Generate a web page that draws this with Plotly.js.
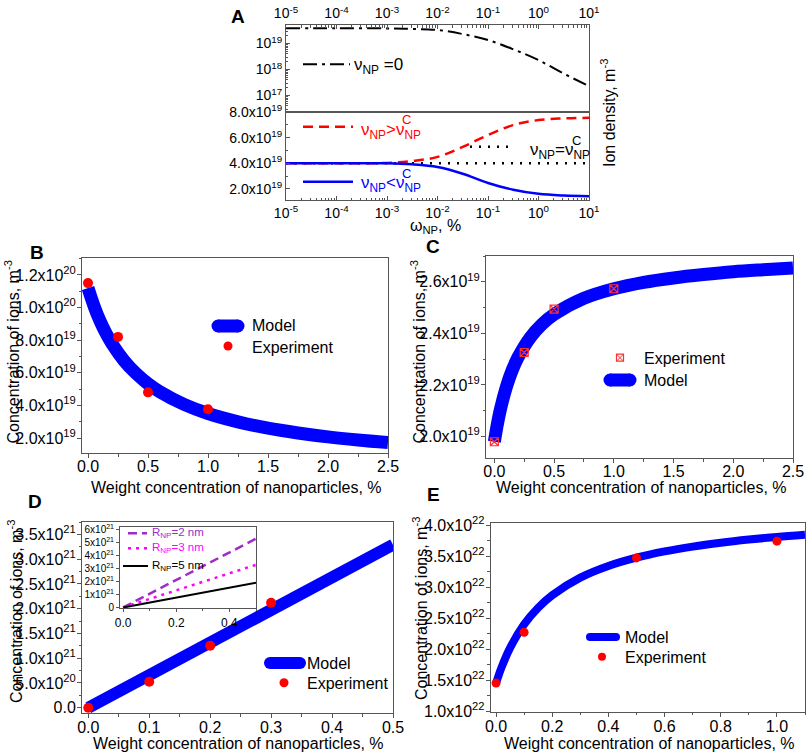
<!DOCTYPE html>
<html><head><meta charset="utf-8">
<script src="https://cdn.plot.ly/plotly-3.0.1.min.js"></script>
<style>html,body{margin:0;padding:0;background:#fff}#chart{width:809px;height:754px}</style>
</head><body><div id="chart"></div>
<script>
// ---------- Panel A data ----------
const aX = [1e-5, 1e-4, 1e-3, 3.16e-3, 1e-2, 3.16e-2, 1e-1, 3.16e-1, 1, 3.16, 10];
const aNuZero = [3.85e19, 3.85e19, 3.8e19, 3.6e19, 3.3e19, 2.3e19, 1.36e19, 6.0e18, 2.3e18, 7.0e17, 2.3e17];
const aNuGreater = [4.0e19, 4.0e19, 4.03e19, 4.18e19, 4.5e19, 5.28e19, 6.2e19, 6.98e19, 7.37e19, 7.5e19, 7.55e19];
const aNuLess = [4.0e19, 4.0e19, 4.0e19, 3.92e19, 3.71e19, 3.19e19, 2.47e19, 1.94e19, 1.62e19, 1.49e19, 1.44e19];
const aEqualX = [1e-5, 10];
const aNuEqual = [4.0e19, 4.0e19];
const aXTicks = [1e-5, 1e-4, 1e-3, 1e-2, 1e-1, 1, 10];
const aXTickText = ['10<sup>-5</sup>','10<sup>-4</sup>','10<sup>-3</sup>','10<sup>-2</sup>','10<sup>-1</sup>','10<sup>0</sup>','10<sup>1</sup>'];
const aTopYTicks = [1e17, 1e18, 1e19];
const aTopYText = ['10<sup>17</sup>','10<sup>18</sup>','10<sup>19</sup>'];
const aBotYTicks = [2e19, 4e19, 6e19, 8e19];
const aBotYText = ['2.0x10<sup>19</sup>','4.0x10<sup>19</sup>','6.0x10<sup>19</sup>','8.0x10<sup>19</sup>'];

// ---------- Panel B data ----------
const bModelX = [0,0.05,0.1,0.15,0.2,0.3,0.4,0.5,0.6,0.8,1.0,1.25,1.5,1.75,2.0,2.25,2.5];
const bModelY = [11.2e19,10.1e19,9.18e19,8.42e19,7.78e19,6.75e19,5.96e19,5.33e19,4.83e19,4.06e19,3.50e19,2.99e19,2.60e19,2.31e19,2.07e19,1.88e19,1.72e19];
const bExpX = [0, 0.25, 0.5, 1.0];
const bExpY = [11.5e19, 8.2e19, 4.8e19, 3.76e19];
const bYTicks = [2e19, 4e19, 6e19, 8e19, 10e19, 12e19];
const bYText = ['2.0x10<sup>19</sup>','4.0x10<sup>19</sup>','6.0x10<sup>19</sup>','8.0x10<sup>19</sup>','1.0x10<sup>20</sup>','1.2x10<sup>20</sup>'];

// ---------- Panel C data ----------
const cModelX = [0,0.02,0.05,0.1,0.15,0.2,0.3,0.4,0.5,0.75,1.0,1.25,1.5,1.75,2.0,2.25,2.5];
const cModelY = [1.98e19,2.035e19,2.104e19,2.192e19,2.258e19,2.309e19,2.384e19,2.436e19,2.474e19,2.536e19,2.573e19,2.598e19,2.615e19,2.628e19,2.639e19,2.647e19,2.654e19];
const cExpX = [0, 0.25, 0.5, 1.0];
const cExpY = [1.98e19, 2.326e19, 2.494e19, 2.573e19];
const cYTicks = [2.0e19, 2.2e19, 2.4e19, 2.6e19];
const cYText = ['2.0x10<sup>19</sup>','2.2x10<sup>19</sup>','2.4x10<sup>19</sup>','2.6x10<sup>19</sup>'];

// ---------- Panel D data ----------
const dModelX = [0, 0.5];
const dModelY = [0, 3.29e21];
const dExpX = [0, 0.1, 0.2, 0.3];
const dExpY = [0, 5.25e20, 1.253e21, 2.12e21];
const dYTicks = [0, 5e20, 1e21, 1.5e21, 2e21, 2.5e21, 3e21, 3.5e21];
const dYText = ['0.0','5.0x10<sup>20</sup>','1.0x10<sup>21</sup>','1.5x10<sup>21</sup>','2.0x10<sup>21</sup>','2.5x10<sup>21</sup>','3.0x10<sup>21</sup>','3.5x10<sup>21</sup>'];
// inset
const insX = [0, 0.25, 0.5];
const insR2 = [0, 2.66e21, 5.32e21];
const insR3 = [0, 1.65e21, 3.3e21];
const insR5 = [0, 0.95e21, 1.91e21];
const insYTicks = [0, 1e21, 2e21, 3e21, 4e21, 5e21, 6e21];
const insYText = ['0','1x10<sup>21</sup>','2x10<sup>21</sup>','3x10<sup>21</sup>','4x10<sup>21</sup>','5x10<sup>21</sup>','6x10<sup>21</sup>'];

// ---------- Panel E data ----------
const eModelX = [0,0.02,0.05,0.1,0.15,0.2,0.3,0.4,0.5,0.6,0.7,0.8,0.9,1.0,1.1];
const eModelY = [1.45e22,1.709e22,2.02e22,2.399e22,2.668e22,2.87e22,3.153e22,3.341e22,3.475e22,3.576e22,3.654e22,3.716e22,3.767e22,3.81e22,3.846e22];
const eExpX = [0, 0.1, 0.5, 1.0];
const eExpY = [1.452e22, 2.271e22, 3.472e22, 3.742e22];
const eYTicks = [1.0e22,1.5e22,2.0e22,2.5e22,3.0e22,3.5e22,4.0e22];
const eYText = ['1.0x10<sup>22</sup>','1.5x10<sup>22</sup>','2.0x10<sup>22</sup>','2.5x10<sup>22</sup>','3.0x10<sup>22</sup>','3.5x10<sup>22</sup>','4.0x10<sup>22</sup>'];

// ---------- helpers ----------
const W = 809, H = 754;
const PX = p => p / W;
const PY = p => 1 - p / H;
const F = 'Liberation Sans, Arial, sans-serif';
const BLUE = '#0000ff', RED = '#ff0000', PURPLE = '#a02cc8', MAG = '#ff00ff';
const AX = '#555';

function logMinor(d0, d1) {
  const v = [];
  for (let d = d0; d < d1; d++) for (let k = 2; k <= 9; k++) v.push(k * Math.pow(10, d));
  return v;
}

const base = {showgrid:false, zeroline:false, showline:true, mirror:true, linecolor:AX, linewidth:1,
  ticks:'outside', ticklen:4, tickcolor:AX, tickwidth:1, tickfont:{family:F, size:16, color:'#000'}};
function ax(extra) { return Object.assign({}, base, extra); }

const traces = [
  // Panel A top
  {x:aX, y:aNuZero, xaxis:'x', yaxis:'y', mode:'lines', line:{color:'#000', width:2, dash:'14px,5px,3px,5px', shape:'spline'}},
  // Panel A bottom
  {x:aEqualX, y:aNuEqual, xaxis:'x2', yaxis:'y2', mode:'lines', line:{color:'#000', width:2.5, dash:'2px,7px'}},
  {x:aX, y:aNuGreater, xaxis:'x2', yaxis:'y2', mode:'lines', line:{color:RED, width:2.5, dash:'10px,6px', shape:'spline'}},
  {x:aX, y:aNuLess, xaxis:'x2', yaxis:'y2', mode:'lines', line:{color:BLUE, width:2.5, shape:'spline'}},
  // Panel B
  {x:bModelX, y:bModelY, xaxis:'x3', yaxis:'y3', mode:'lines', line:{color:BLUE, width:13, shape:'spline'}},
  {x:bExpX, y:bExpY, xaxis:'x3', yaxis:'y3', mode:'markers', marker:{color:RED, size:10}},
  // Panel C
  {x:cModelX, y:cModelY, xaxis:'x4', yaxis:'y4', mode:'lines', line:{color:BLUE, width:13, shape:'spline'}},
  {x:cExpX, y:cExpY, xaxis:'x4', yaxis:'y4', mode:'markers', marker:{color:'#ff3030', size:8, symbol:'square-x-open', line:{width:1.2}}},
  // Panel D
  {x:dModelX, y:dModelY, xaxis:'x5', yaxis:'y5', mode:'lines', line:{color:BLUE, width:12}},
  {x:dExpX, y:dExpY, xaxis:'x5', yaxis:'y5', mode:'markers', marker:{color:RED, size:10}},
  // inset
  {x:insX, y:insR2, xaxis:'x6', yaxis:'y6', mode:'lines', line:{color:PURPLE, width:2.5, dash:'9px,5px'}},
  {x:insX, y:insR3, xaxis:'x6', yaxis:'y6', mode:'lines', line:{color:MAG, width:2.5, dash:'3px,5px'}},
  {x:insX, y:insR5, xaxis:'x6', yaxis:'y6', mode:'lines', line:{color:'#000', width:2}},
  // Panel E
  {x:eModelX, y:eModelY, xaxis:'x7', yaxis:'y7', mode:'lines', line:{color:BLUE, width:8, shape:'spline'}},
  {x:eExpX, y:eExpY, xaxis:'x7', yaxis:'y7', mode:'markers', marker:{color:RED, size:9}},
];
traces.forEach(t => { t.showlegend = false; t.hoverinfo = 'skip'; });

const aFont = {family:F, size:14, color:'#000'};
const layout = {
  width:W, height:H, margin:{l:0, r:0, t:0, b:0}, paper_bgcolor:'#fff', plot_bgcolor:'rgba(0,0,0,0)',
  showlegend:false,
  // A top
  xaxis: ax({type:'log', domain:[PX(286), PX(589)], anchor:'y', side:'top', range:[-5, 1],
    tickmode:'array', tickvals:aXTicks, ticktext:aXTickText, ticks:'inside', ticklen:4, tickfont:aFont,
    minor:{tickmode:'array', tickvals:logMinor(-5, 1), ticks:'inside', ticklen:2.5, tickcolor:AX}}),
  yaxis: ax({type:'log', domain:[PY(112), PY(25)], anchor:'x', range:[16.37, 19.71],
    tickmode:'array', tickvals:aTopYTicks, ticktext:aTopYText, ticks:'inside', ticklen:4, tickfont:aFont,
    minor:{tickmode:'array', tickvals:logMinor(16, 20), ticks:'inside', ticklen:2, tickcolor:AX}}),
  // A bottom
  xaxis2: ax({type:'log', domain:[PX(286), PX(589)], anchor:'y2', range:[-5, 1],
    tickmode:'array', tickvals:aXTicks, ticktext:aXTickText, ticks:'inside', ticklen:4, tickfont:aFont,
    minor:{tickmode:'array', tickvals:logMinor(-5, 1), ticks:'inside', ticklen:2.5, tickcolor:AX}}),
  yaxis2: ax({domain:[PY(200), PY(112)], anchor:'x2', range:[1.14e19, 8.0005e19],
    tickmode:'array', tickvals:aBotYTicks, ticktext:aBotYText, ticks:'inside', ticklen:4, tickfont:aFont,
    minor:{dtick:1e19, ticks:'inside', ticklen:2, tickcolor:AX}}),
  // B
  xaxis3: ax({domain:[PX(82), PX(388)], anchor:'y3', range:[-0.05, 2.5], dtick:0.5, tick0:0, tickformat:'.1f',
    ticklabelstandoff:-5, minor:{dtick:0.25, ticklen:2.5, tickcolor:AX}}),
  yaxis3: ax({domain:[PY(453), PY(258)], anchor:'x3', range:[1.08e19, 1.304e20], ticklabelstandoff:-2,
    tickmode:'array', tickvals:bYTicks, ticktext:bYText, minor:{dtick:1e19, ticklen:2.5, tickcolor:AX}}),
  // C
  xaxis4: ax({domain:[PX(486), PX(793)], anchor:'y4', range:[-0.07, 2.5], dtick:0.5, tick0:0, tickformat:'.1f',
    ticklabelstandoff:-5, minor:{dtick:0.25, ticklen:2.5, tickcolor:AX}}),
  yaxis4: ax({domain:[PY(458), PY(256)], anchor:'x4', range:[1.917e19, 2.70e19], ticklabelstandoff:-2,
    tickmode:'array', tickvals:cYTicks, ticktext:cYText, minor:{dtick:1e18, ticklen:2.5, tickcolor:AX}}),
  // D
  xaxis5: ax({domain:[PX(82), PX(393)], anchor:'y5', range:[-0.0103, 0.5], dtick:0.1, tick0:0, tickformat:'.1f',
    ticklabelstandoff:-4, minor:{dtick:0.05, ticklen:2.5, tickcolor:AX}}),
  yaxis5: ax({domain:[PY(713), PY(522)], anchor:'x5', range:[-1.07e20, 3.75e21], ticklabelstandoff:-2,
    tickmode:'array', tickvals:dYTicks, ticktext:dYText, minor:{dtick:2.5e20, ticklen:2.5, tickcolor:AX}}),
  // inset
  xaxis6: ax({domain:[PX(120), PX(256)], anchor:'y6', range:[-0.012, 0.5], dtick:0.2, tick0:0, tickformat:'.1f',
    ticklen:3, tickfont:{family:F, size:12, color:'#000'}, minor:{dtick:0.1, ticklen:2, tickcolor:AX}}),
  yaxis6: ax({domain:[PY(608.3), PY(526.7)], anchor:'x6', range:[-0.07e21, 6.25e21],
    tickmode:'array', tickvals:insYTicks, ticktext:insYText, ticklen:3, tickfont:{family:F, size:10, color:'#000'}}),
  // E
  xaxis7: ax({domain:[PX(490.7), PX(805)], anchor:'y7', range:[-0.019, 1.1], dtick:0.2, tick0:0, tickformat:'.1f',
    ticklabelstandoff:-4, minor:{dtick:0.1, ticklen:2.5, tickcolor:AX}}),
  yaxis7: ax({domain:[PY(711.7), PY(523.3)], anchor:'x7', range:[0.99e22, 4.03e22], ticklabelstandoff:-2,
    tickmode:'array', tickvals:eYTicks, ticktext:eYText, minor:{dtick:0.25e22, ticklen:2.5, tickcolor:AX}}),
  shapes:[], annotations:[]
};

function text(px, py, t, opts) {
  layout.annotations.push(Object.assign({xref:'paper', yref:'paper', x:PX(px), y:PY(py), text:t, showarrow:false,
    xanchor:'center', yanchor:'middle', font:{family:F, size:16, color:'#000'}}, opts || {}));
}
function seg(x0, x1, y, color, width, dash) {
  layout.shapes.push({type:'line', xref:'paper', yref:'paper', x0:PX(x0), x1:PX(x1), y0:PY(y), y1:PY(y),
    line:{color:color, width:width, dash:dash || 'solid'}});
}
function dot(cx, cy, r, color) {
  layout.shapes.push({type:'circle', xref:'paper', yref:'paper', x0:PX(cx - r), x1:PX(cx + r), y0:PY(cy + r), y1:PY(cy - r),
    fillcolor:color, line:{width:0}});
}
function pill(x0, x1, y, w, color) { seg(x0, x1, y, color, w); dot(x0, y, w / 2, color); dot(x1, y, w / 2, color); }

// Panel labels
const lab = {family:F, size:19, color:'#000', weight:'bold'};
text(238, 16, '<b>A</b>', {font:lab});
text(37, 252, '<b>B</b>', {font:lab});
text(433, 246, '<b>C</b>', {font:lab});
text(35, 502, '<b>D</b>', {font:lab});
text(433, 495, '<b>E</b>', {font:lab});

// Panel A legends & titles
seg(303, 350, 64.3, '#000', 2, '14px,5px,3px,5px');
text(352, 66, 'ν<sub>NP</sub> =0', {xanchor:'left', font:{family:F, size:17, color:'#000'}});
seg(303, 353, 126.7, RED, 2.5, '10px,6px');
text(359, 131, 'ν<sub>NP</sub>&gt;ν<sub>NP</sub>', {xanchor:'left', font:{family:F, size:17, color:RED}});
text(406.7, 119, 'C', {font:{family:F, size:13, color:RED}});
seg(303, 353, 181.7, BLUE, 2.5);
text(359, 184, 'ν<sub>NP</sub>&lt;ν<sub>NP</sub>', {xanchor:'left', font:{family:F, size:17, color:BLUE}});
text(406.7, 173.5, 'C', {font:{family:F, size:13, color:BLUE}});
seg(470, 513, 146.7, '#000', 2.5, '2px,7px');
text(528, 151, 'ν<sub>NP</sub>=ν<sub>NP</sub>', {xanchor:'left', font:{family:F, size:17, color:'#000'}});
text(576.7, 140, 'C', {font:{family:F, size:13, color:'#000'}});
text(608, 113, 'Ion density, m<sup>-3</sup>', {textangle:-90});
text(436, 226, 'ω<sub>NP</sub>, %');

// Axis titles
const xt = 'Weight concentration of nanoparticles, %';
const yt = 'Concentration of ions, m<sup>-3</sup>';
text(236, 487, xt); text(641, 487, xt); text(238.5, 743, xt); text(649, 743, xt);
text(12.5, 352, yt, {textangle:-90});
text(418.5, 352, yt, {textangle:-90});
text(15, 612, yt, {textangle:-90});
text(420, 609, yt, {textangle:-90});

// Legend B
pill(218, 238, 326, 13, BLUE); text(250, 326, 'Model', {xanchor:'left'});
dot(228, 346, 4.5, RED); text(250, 347, 'Experiment', {xanchor:'left'});
// Legend C
layout.shapes.push({type:'rect', xref:'paper', yref:'paper', x0:PX(616.5), x1:PX(623.5), y0:PY(361.2), y1:PY(354.2), line:{color:'#ff3030', width:1.2}});
layout.shapes.push({type:'line', xref:'paper', yref:'paper', x0:PX(616.5), x1:PX(623.5), y0:PY(361.2), y1:PY(354.2), line:{color:'#ff3030', width:1}});
layout.shapes.push({type:'line', xref:'paper', yref:'paper', x0:PX(616.5), x1:PX(623.5), y0:PY(354.2), y1:PY(361.2), line:{color:'#ff3030', width:1}});
text(642, 358, 'Experiment', {xanchor:'left'});
pill(610, 630, 380, 13, BLUE); text(642, 380, 'Model', {xanchor:'left'});
// Legend D
pill(270, 300, 663, 12, BLUE); text(305, 663, 'Model', {xanchor:'left'});
dot(284, 682.7, 4.5, RED); text(305, 683, 'Experiment', {xanchor:'left'});
// Inset legend
seg(128, 147, 533.3, PURPLE, 2.5, '9px,5px');
text(150, 533.3, 'R<sub>NP</sub>=2 nm', {xanchor:'left', font:{family:F, size:11.5, color:PURPLE}});
seg(128, 147, 548.3, MAG, 2.5, '3px,5px');
text(150, 548.3, 'R<sub>NP</sub>=3 nm', {xanchor:'left', font:{family:F, size:11.5, color:MAG}});
seg(123, 148, 566, '#000', 2);
text(150, 566, 'R<sub>NP</sub>=5 nm', {xanchor:'left', font:{family:F, size:11.5, color:'#000'}});
// Legend E
pill(590, 616, 637, 8, BLUE); text(623, 637, 'Model', {xanchor:'left'});
dot(602, 656.7, 4, RED); text(623, 657, 'Experiment', {xanchor:'left'});

Plotly.newPlot('chart', traces, layout, {displayModeBar:false, staticPlot:true});
</script></body></html>
